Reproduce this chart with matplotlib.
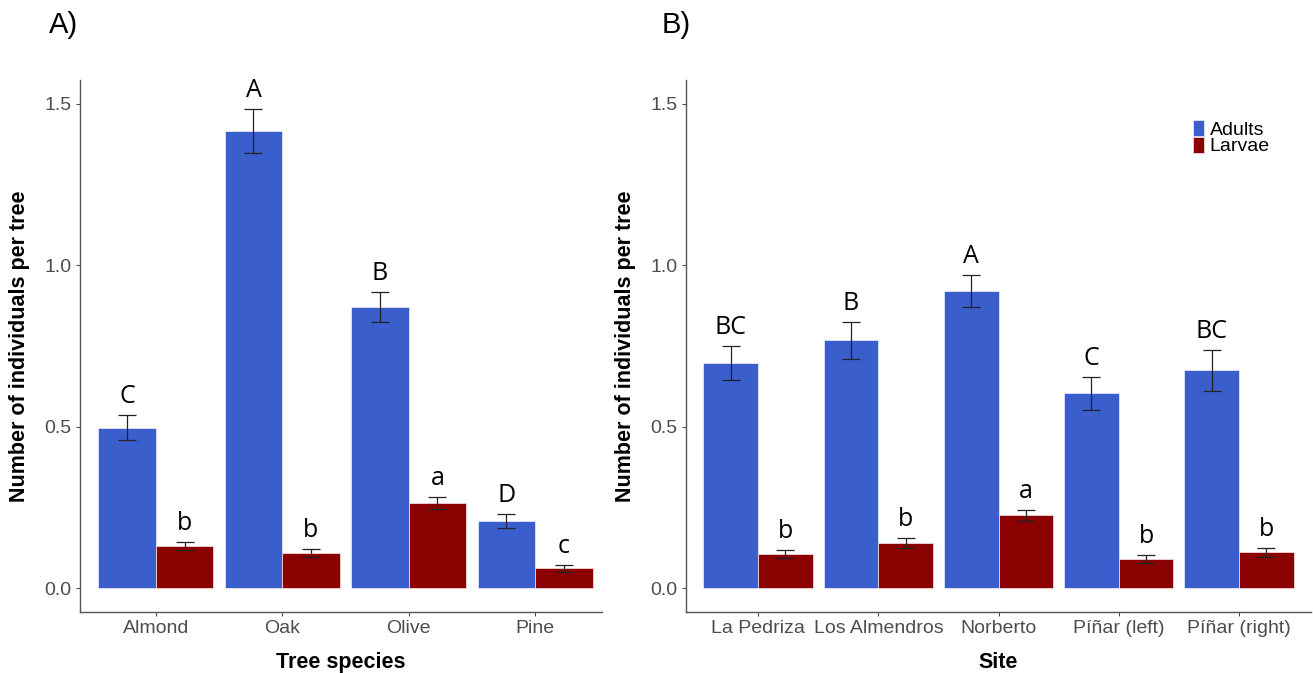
import matplotlib
matplotlib.use("Agg")
import matplotlib.pyplot as plt
import numpy as np

# panel A: tree species
species = ["Almond", "Oak", "Olive", "Pine"]
sp_adults = [0.497, 1.416, 0.871, 0.207]
sp_adults_se = [0.038, 0.068, 0.047, 0.022]
sp_larvae = [0.131, 0.109, 0.264, 0.061]
sp_larvae_se = [0.013, 0.012, 0.019, 0.010]
sp_adults_let = ["C", "A", "B", "D"]
sp_larvae_let = ["b", "b", "a", "c"]

# panel B: site
sites = ["La Pedriza", "Los Almendros", "Norberto", "Píñar (left)", "Píñar (right)"]
st_adults = [0.696, 0.767, 0.920, 0.603, 0.675]
st_adults_se = [0.053, 0.058, 0.050, 0.050, 0.064]
st_larvae = [0.106, 0.140, 0.225, 0.091, 0.111]
st_larvae_se = [0.013, 0.016, 0.016, 0.012, 0.014]
st_adults_let = ["BC", "B", "A", "C", "BC"]
st_larvae_let = ["b", "b", "a", "b", "b"]

BLUE = "#3A5FCD"
RED = "#8B0000"
GREY = "#4D4D4D"
LETTER_FONT = ["Open Sans", "DejaVu Sans"]

plt.rcParams["font.family"] = ["Liberation Sans", "DejaVu Sans"]


def panel(ax, cats, ad, ad_se, lv, lv_se, ad_let, lv_let, xlabel, xmax, ylab_x):
    x = np.arange(1, len(cats) + 1)
    w = 0.455
    ax.bar(x - w / 2, ad, w, color=BLUE, edgecolor="#dfe6fb", linewidth=0.6, label="Adults")
    ax.bar(x + w / 2, lv, w, color=RED, edgecolor="#f0d8d8", linewidth=0.6, label="Larvae")
    ax.errorbar(x - w / 2, ad, yerr=ad_se, fmt="none", ecolor="#222222", elinewidth=0.9, capsize=6.5, capthick=0.9)
    ax.errorbar(x + w / 2, lv, yerr=lv_se, fmt="none", ecolor="#222222", elinewidth=0.9, capsize=6.5, capthick=0.9)
    for xi, m, s, t in zip(x - w / 2, ad, ad_se, ad_let):
        ax.text(xi, m + s + 0.037, t, ha="center", va="baseline", fontsize=18, family=LETTER_FONT)
    for xi, m, s, t in zip(x + w / 2, lv, lv_se, lv_let):
        ax.text(xi, m + s + 0.037, t, ha="center", va="baseline", fontsize=18, family=LETTER_FONT)
    ax.set_xlim(0.4, xmax)
    ax.set_ylim(-0.0744, 1.574)
    ax.set_xticks(x)
    ax.set_xticklabels(cats)
    ax.set_yticks([0, 0.5, 1.0, 1.5])
    ax.set_yticklabels(["0.0", "0.5", "1.0", "1.5"])
    ax.tick_params(colors=GREY, labelsize=14, length=3, width=0.8, pad=3)
    for side in ["top", "right"]:
        ax.spines[side].set_visible(False)
    for side in ["left", "bottom"]:
        ax.spines[side].set_color("#555555")
        ax.spines[side].set_linewidth(1.0)
    ax.set_xlabel(xlabel, fontsize=15.5, fontweight="bold")
    ax.set_ylabel("Number of individuals per tree", fontsize=15.5, fontweight="bold")
    ax.xaxis.set_label_coords(0.5, -0.0752)
    ax.yaxis.set_label_coords(ylab_x, 0.5)


fig = plt.figure(figsize=(13.13, 6.73), dpi=100)
ax1 = fig.add_axes([0.0609, 0.0906, 0.3976, 0.7905])
ax2 = fig.add_axes([0.5225, 0.0906, 0.476, 0.7905])

panel(ax1, species, sp_adults, sp_adults_se, sp_larvae, sp_larvae_se, sp_adults_let, sp_larvae_let,
      "Tree species", 4.53, -0.096)
panel(ax2, sites, st_adults, st_adults_se, st_larvae, st_larvae_se, st_adults_let, st_larvae_let,
      "Site", 5.6, -0.08)

ax2.legend(loc="upper left", bbox_to_anchor=(0.811, 0.925), frameon=False, fontsize=14,
           handlelength=0.57, handleheight=0.93, labelspacing=-0.12, handletextpad=0.3, borderpad=0,
           borderaxespad=0)

fig.text(49 / 1313, 1 - 25 / 673, "A)", fontsize=21, va="center")
fig.text(662 / 1313, 1 - 25 / 673, "B)", fontsize=21, va="center")

fig.savefig("out.png", dpi=100)
